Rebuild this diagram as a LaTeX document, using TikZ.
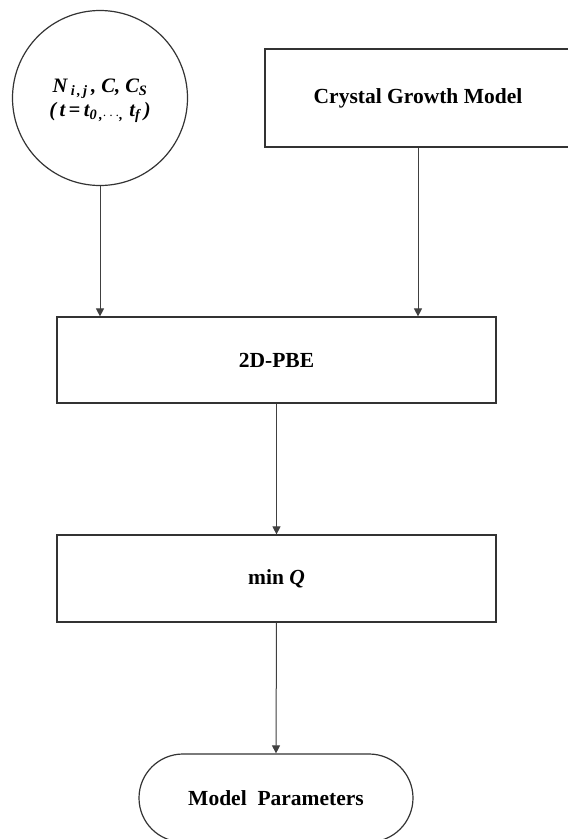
\documentclass[tikz,border=0pt]{standalone}
\usepackage{fontspec}
\setmainfont{Liberation Serif}
\usetikzlibrary{arrows.meta,shapes.geometric}
\begin{document}
\begin{tikzpicture}[x=1pt,y=-1pt,
  every node/.style={font=\fontsize{21.5}{26}\selectfont\bfseries, text=black},
  boxnode/.style={draw=black!80, line width=1.2pt, rectangle, inner sep=0pt},
  conn/.style={draw=black!75, line width=1pt, -{Triangle[length=8pt,width=8pt]}}]
\useasboundingbox (0,0) rectangle (568,839);
\clip (0,0) rectangle (568,839);
\fill[white] (0,0) rectangle (568,839);

\node[boxnode, circle, minimum size=175pt] (circ) at (100,98) {};
\node[align=center, inner sep=0pt,
      font=\fontsize{20.5}{24}\selectfont\bfseries\itshape] (circtext) at (100,101)
  {N\,\textsubscript{i\,,\,j}\,, C, C\textsubscript{S}\\
   (\,t\,=\,t\textsubscript{0\,,$\cdots$,\,}\,t\textsubscript{f}\,)};

\node[boxnode, minimum width=306pt, minimum height=98pt] (cgm) at (418,98)
  {Crystal Growth Model};

\node[boxnode, minimum width=439pt, minimum height=86pt] (pbe) at (276.5,360)
  {2D-PBE};

\node[boxnode, minimum width=439pt, minimum height=87pt] (minq) at (276.5,578.5)
  {min \textit{Q}};

\node[boxnode, rounded corners=44pt, minimum width=274pt, minimum height=88pt] (mp) at (276,798)
  {Model\ \ Parameters};

\draw[conn] (circ.south) -- (circ.south |- pbe.north);
\draw[conn] (cgm.south) -- (cgm.south |- pbe.north);
\draw[conn] (pbe.south) -- (minq.north);
\draw[conn] (minq.south) -- (mp.north);
\end{tikzpicture}
\end{document}
